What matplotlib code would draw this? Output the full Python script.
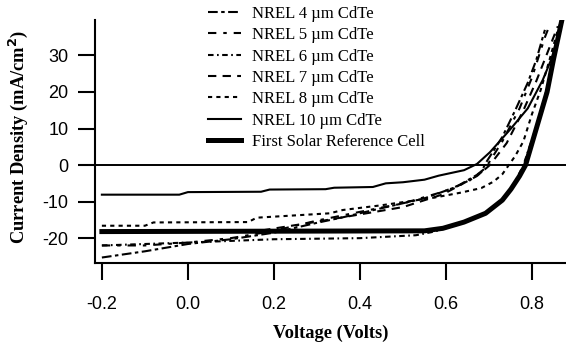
#!/usr/bin/env python3
"""J-V curves: NREL CdTe cells of different thickness vs First Solar reference cell"""
import matplotlib
matplotlib.use('Agg')
import matplotlib.pyplot as plt

plt.rcParams['axes.unicode_minus'] = False
plt.rcParams['lines.scale_dashes'] = False

# --- data (V in volts, J in mA/cm^2) ---
v_4um = [-0.2, -0.1, 0.0, 0.1, 0.2, 0.3, 0.36, 0.45, 0.55, 0.623, 0.682, 0.692, 0.731, 0.761, 0.79, 0.81, 0.825, 0.83]
j_4um = [-25.3, -23.6, -21.6, -20.3, -18.5, -15.8, -14.3, -11.8, -9.1, -6.0, -2.0, 0.5, 7.7, 15.0, 22.5, 28.8, 35.0, 37.0]

v_5um = [-0.2, -0.1, 0.0, 0.1, 0.2, 0.3, 0.4, 0.5, 0.593, 0.652, 0.692, 0.731, 0.771, 0.80, 0.83, 0.84]
j_5um = [-22.0, -22.0, -21.2, -20.0, -18.0, -15.2, -12.8, -10.5, -7.3, -4.5, -0.8, 6.5, 15.5, 24.0, 35.0, 38.0]

v_6um = [-0.2, 0.0, 0.2, 0.4, 0.53, 0.573, 0.642, 0.692, 0.731, 0.761, 0.78, 0.81, 0.835, 0.855, 0.87]
j_6um = [-22.0, -21.2, -20.3, -20.0, -19.2, -18.2, -15.8, -13.2, -9.5, -4.5, 0.0, 10.5, 21.0, 32.0, 40.0]

v_7um = [-0.2, 0.15, 0.3, 0.5, 0.593, 0.672, 0.702, 0.741, 0.78, 0.81, 0.84, 0.86]
j_7um = [-18.3, -18.3, -15.5, -11.5, -8.0, -3.0, 0.0, 6.0, 15.0, 23.0, 32.0, 38.0]

v_8um = [-0.2, -0.1, -0.08, 0.14, 0.16, 0.33, 0.36, 0.45, 0.573, 0.632, 0.682, 0.711, 0.731, 0.761, 0.78, 0.80, 0.82, 0.84, 0.86, 0.87]
j_8um = [-16.6, -16.6, -15.7, -15.6, -14.4, -13.2, -12.3, -11.0, -8.9, -7.6, -6.3, -4.5, -2.5, 2.5, 6.5, 14.0, 20.5, 28.5, 37.0, 40.0]

v_10um = [-0.2, -0.02, 0.0, 0.17, 0.19, 0.32, 0.34, 0.43, 0.46, 0.5, 0.55, 0.583, 0.642, 0.672, 0.702, 0.721, 0.751, 0.79, 0.825, 0.845, 0.86, 0.87]
j_10um = [-8.1, -8.1, -7.4, -7.3, -6.7, -6.6, -6.2, -6.0, -5.0, -4.7, -4.0, -2.9, -1.4, 0.3, 3.5, 6.0, 10.0, 15.5, 23.3, 29.0, 35.0, 39.0]

v_fs = [-0.2, 0.55, 0.593, 0.642, 0.692, 0.731, 0.751, 0.771, 0.785, 0.81, 0.835, 0.85, 0.87]
j_fs = [-18.2, -18.0, -17.3, -15.6, -13.2, -9.6, -6.6, -3.0, 0.0, 10.0, 20.0, 29.0, 40.0]

labels = ['NREL 4 \u00b5m CdTe', 'NREL 5 \u00b5m CdTe', 'NREL 6 \u00b5m CdTe',
          'NREL 7 \u00b5m CdTe', 'NREL 8 \u00b5m CdTe', 'NREL 10 \u00b5m CdTe',
          'First Solar Reference Cell']

x_ticks = [-0.2, 0.0, 0.2, 0.4, 0.6, 0.8]
y_ticks = [-20, -10, 0, 10, 20, 30]

fig = plt.figure(figsize=(5.66, 3.46), dpi=100)
ax = fig.add_axes([95 / 566, 83 / 346, 471 / 566, 243 / 346])

lw = 1.5
ax.plot(v_4um, j_4um, color='black', lw=lw, ls=(0, (7, 2.5, 2.5, 2.5)), label=labels[0])
ax.plot(v_5um, j_5um, color='black', lw=lw, ls=(0, (6, 5, 2.5, 5)), label=labels[1])
ax.plot(v_6um, j_6um, color='black', lw=lw, ls=(0, (4, 2.5, 1.2, 2.5)), label=labels[2])
ax.plot(v_7um, j_7um, color='black', lw=lw, ls=(0, (6, 4.5)), label=labels[3])
ax.plot(v_8um, j_8um, color='black', lw=lw, ls=(0, (3, 3)), label=labels[4])
ax.plot(v_10um, j_10um, color='black', lw=lw, ls='-', label=labels[5])
ax.plot(v_fs, j_fs, color='black', lw=3.6, ls='-', label=labels[6])

ax.axhline(0, color='black', lw=1.4, zorder=0)

ax.set_xlim(-0.216, 0.879)
ax.set_ylim(-26.8, 39.7)
ax.set_xticks(x_ticks)
ax.set_xticklabels([f'{t:.1f}' for t in x_ticks])
ax.set_yticks(y_ticks)
ax.set_yticklabels([str(t) for t in y_ticks])

for s in ['top', 'right']:
    ax.spines[s].set_visible(False)
for s in ['left', 'bottom']:
    ax.spines[s].set_linewidth(1.5)

ax.tick_params(axis='x', direction='out', length=12, width=1.5, pad=12,
               labelsize=13, labelfontfamily='Liberation Sans')
ax.tick_params(axis='y', direction='out', length=12, width=1.5, pad=7,
               labelsize=13, labelfontfamily='Liberation Sans')

ax.set_xlabel('Voltage (Volts)', family='Liberation Serif', fontweight='bold',
              fontsize=13.3, labelpad=8)
ax.set_ylabel('Current Density (mA/cm$^\\mathbf{2}$)', family='Liberation Serif',
              fontweight='bold', fontsize=13.3)
ax.yaxis.set_label_coords(-0.139, 0.52)

leg = ax.legend(loc='upper left', bbox_to_anchor=(208 / 566, 0.983),
                bbox_transform=fig.transFigure, frameon=False,
                prop={'family': 'Liberation Serif', 'size': 12},
                handlelength=1.95, handletextpad=0.7, labelspacing=0.32,
                borderpad=0, borderaxespad=0)

fig.savefig('out.png', dpi=100)
